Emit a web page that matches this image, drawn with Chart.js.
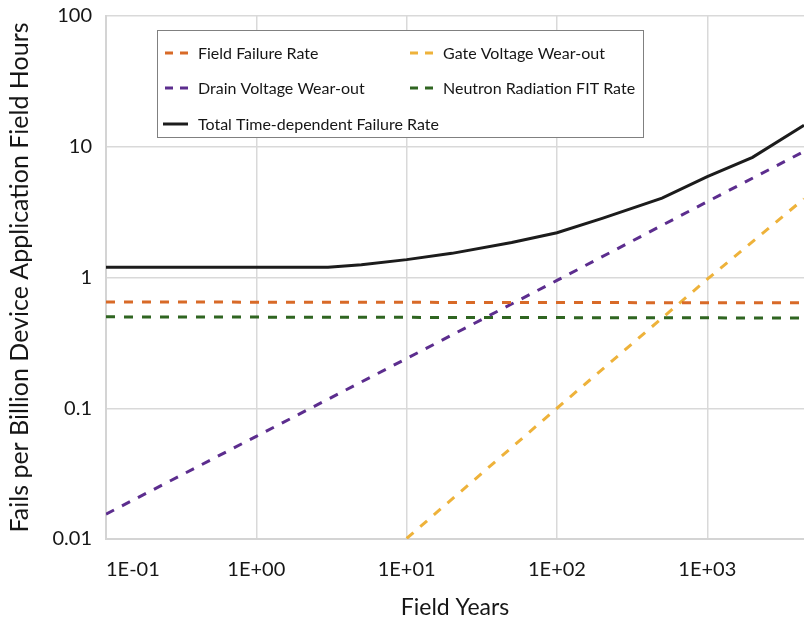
<!DOCTYPE html>
<html>
<head>
<meta charset="utf-8">
<script src="https://cdn.jsdelivr.net/npm/chart.js@4.4.0/dist/chart.umd.min.js"></script>
<style>
  body { margin: 0; background: #fff; }
  #wrap { width: 804px; height: 619px; }
</style>
</head>
<body>
<div id="wrap"><canvas id="chart"></canvas></div>
<script>
// Ticks
const xTickValues = [0.1, 1, 10, 100, 1000];
const xTickLabels = ["1E-01", "1E+00", "1E+01", "1E+02", "1E+03"];
const yTickValues = [0.01, 0.1, 1, 10, 100];
const yTickLabels = ["0.01", "0.1", "1", "10", "100"];
const xMin = 0.1, xMax = 4400;

// Series (field years / FIT)
const fieldFailureX = [0.1, 4400];
const fieldFailureY = [0.65, 0.64];
const gateX = [10, 100, 1000, 4400];
const gateY = [0.0101, 0.1, 0.97, 4.0];
const drainX = [0.1, 1, 10, 100, 1000, 4400];
const drainY = [0.0155, 0.061, 0.24, 0.95, 3.8, 9.2];
const neutronX = [0.1, 4400];
const neutronY = [0.5, 0.49];
const totalX = [0.1, 1, 3, 5, 10, 20, 50, 100, 200, 500, 1000, 2000, 4400];
const totalY = [1.2, 1.2, 1.2, 1.25, 1.37, 1.53, 1.85, 2.2, 2.83, 4.05, 5.9, 8.3, 14.6];

const FONT = "Lato";
const TEXT = "#161616";
const GRID = "#d9d9d9";

function pts(xs, ys) {
  return xs.map((x, i) => ({ x: x, y: ys[i] }));
}

function ds(label, xs, ys, color, dashed) {
  return {
    label: label,
    data: pts(xs, ys),
    borderColor: color,
    backgroundColor: color,
    borderWidth: 3,
    borderDash: dashed ? [9, 9] : [],
    pointRadius: 0,
    tension: 0,
    fill: false
  };
}

// legend drawn inside the plot, two columns
const boxLegend = {
  id: "boxLegend",
  afterDatasetsDraw(chart) {
    const ctx = chart.ctx;
    const L = 157, T = 30, W = 486, H = 107;
    ctx.save();
    ctx.fillStyle = "#fff";
    ctx.fillRect(L, T, W, H);
    ctx.strokeStyle = "#808080";
    ctx.lineWidth = 1;
    ctx.strokeRect(L + 0.5, T + 0.5, W, H);
    const order = [[0, 165, 53], [1, 410, 53], [2, 165, 88], [3, 410, 88], [4, 165, 124]];
    ctx.font = "16px " + FONT;
    ctx.textBaseline = "middle";
    order.forEach(([i, x, y]) => {
      const d = chart.data.datasets[i];
      ctx.strokeStyle = d.borderColor;
      ctx.lineWidth = 3;
      ctx.setLineDash(d.borderDash.length ? [8, 7] : []);
      ctx.beginPath();
      ctx.moveTo(d.borderDash.length ? x : x - 2, y);
      ctx.lineTo(x + 23, y);
      ctx.stroke();
      ctx.setLineDash([]);
      ctx.fillStyle = TEXT;
      ctx.fillText(d.label, x + 33, y + 1);
    });
    ctx.restore();
  }
};

new Chart(document.getElementById("chart"), {
  type: "line",
  data: {
    datasets: [
      ds("Field Failure Rate", fieldFailureX, fieldFailureY, "#d86a28", true),
      ds("Gate Voltage Wear-out", gateX, gateY, "#eeb23a", true),
      ds("Drain Voltage Wear-out", drainX, drainY, "#5c2d8e", true),
      ds("Neutron Radiation FIT Rate", neutronX, neutronY, "#2f6521", true),
      ds("Total Time-dependent Failure Rate", totalX, totalY, "#1c1c1c", false)
    ]
  },
  options: {
    responsive: true,
    maintainAspectRatio: false,
    animation: false,
    layout: { padding: { top: 16, right: 0, left: 0, bottom: 0 } },
    plugins: { legend: { display: false }, tooltip: { enabled: false } },
    scales: {
      x: {
        type: "logarithmic",
        min: xMin,
        max: xMax,
        afterBuildTicks: s => {
          s.ticks = xTickValues.concat([xMax]).map(v => ({ value: v }));
        },
        afterFit: s => { s.height = 80; s.paddingLeft = 0; s.paddingRight = 0; },
        ticks: {
          callback: (v, i) => xTickLabels[i] || "",
          color: TEXT,
          font: { family: FONT, size: 20 },
          padding: 19,
          align: "inner",
          maxRotation: 0,
          autoSkip: false
        },
        grid: {
          color: c => (c.tick && c.tick.value === xMax ? "rgba(0,0,0,0)" : GRID),
          lineWidth: 1.5,
          drawTicks: false
        },
        border: { color: "#d4d4d4", width: 2 },
        title: {
          display: true,
          text: "Field Years",
          color: TEXT,
          font: { family: FONT, size: 23 },
          padding: { top: 0, bottom: -2 }
        }
      },
      y: {
        type: "logarithmic",
        min: 0.01,
        max: 100,
        afterBuildTicks: s => { s.ticks = yTickValues.map(v => ({ value: v })); },
        afterFit: s => { s.width = 106; s.paddingTop = 0; s.paddingBottom = 0; },
        ticks: {
          callback: (v, i) => yTickLabels[i],
          color: TEXT,
          font: { family: FONT, size: 20 },
          padding: 14,
          autoSkip: false
        },
        grid: { color: GRID, lineWidth: 1.5, drawTicks: false },
        border: { color: "#d4d4d4", width: 2 },
        title: {
          display: true,
          text: "Fails per Billion Device Application Field Hours",
          color: TEXT,
          font: { family: FONT, size: 25 },
          padding: { top: 5, bottom: 0 }
        }
      }
    }
  },
  plugins: [boxLegend]
});
</script>
</body>
</html>
